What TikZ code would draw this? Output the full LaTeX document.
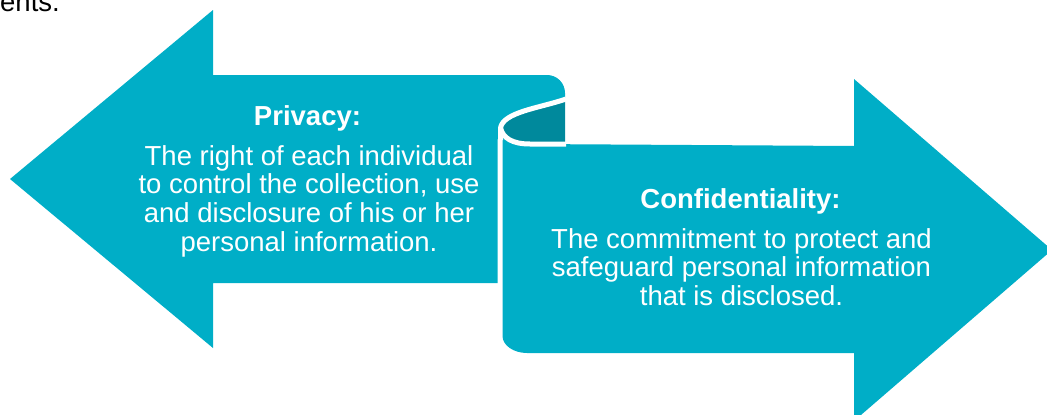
\documentclass[tikz,border=0pt]{standalone}
\usepackage{fontspec}
\setmainfont{Liberation Sans}
\definecolor{tealL}{RGB}{0,174,199}
\definecolor{tealD}{RGB}{0,137,156}
\tikzset{
  arrowfill/.style={fill=tealL, draw=none},
  curlfill/.style={fill=tealD, draw=none},
  gapline/.style={draw=white, line width=5pt, line cap=butt},
  txt/.style={text=white, inner sep=0pt, align=center, font=\fontsize{27.5}{28.8}\selectfont},
  ttl/.style={text=white, inner sep=0pt, font=\fontsize{27.5}{28.8}\selectfont\bfseries}
}
\begin{document}
\begin{tikzpicture}[x=1pt,y=-1pt]
\useasboundingbox (0,0) rectangle (1047,415);
\clip (0,0) rectangle (1047,415);
% left arrow
\path[arrowfill] (10,179) -- (213,10) -- (213,75) -- (547,75)
  .. controls (557,75) and (565,83) .. (565,93) -- (565,99)
  .. controls (540,108) and (503,112) .. (500.5,128)
  -- (497.5,140) -- (497.5,283) -- (213,283) -- (213,348) -- cycle;
% right arrow
\path[arrowfill] (502.5,128) -- (502.5,336)
  .. controls (502.5,345.4) and (513.7,353) .. (527,353)
  -- (854,353) -- (854,421) -- (1052,250) -- (854,79) -- (854,146)
  -- (530,144) .. controls (512,144) and (503,138) .. (502.5,128) -- cycle;
% inside of the curl
\path[curlfill] (565,99) .. controls (540,108) and (503,112) .. (500.5,128)
  .. controls (503,138) and (512,144) .. (530,144) -- (565,144) -- cycle;
% white separating lines
\draw[gapline] (566,99) .. controls (540,108) and (503,112) .. (500.5,128) -- (500.5,140);
\draw[gapline] (500.5,128) .. controls (503,138) and (512,144) .. (530,144) -- (566,144);
% texts
\node[anchor=base west, inner sep=0pt, font=\fontsize{27.5}{29}\selectfont] (prev) at (0,11) {ents.};
\node[ttl, anchor=base] (ptitle) at (307.5,125) {Privacy:};
\node[txt, anchor=base] (pbody) at (309,251.4) {The right of each individual\\to control the collection, use\\and disclosure of his or her\\personal information.};
\node[ttl, anchor=base] (ctitle) at (740.5,208) {Confidentiality:};
\node[txt, anchor=base] (cbody) at (741.5,305.6) {The commitment to protect and\\safeguard personal information\\that is disclosed.};
\end{tikzpicture}
\end{document}
